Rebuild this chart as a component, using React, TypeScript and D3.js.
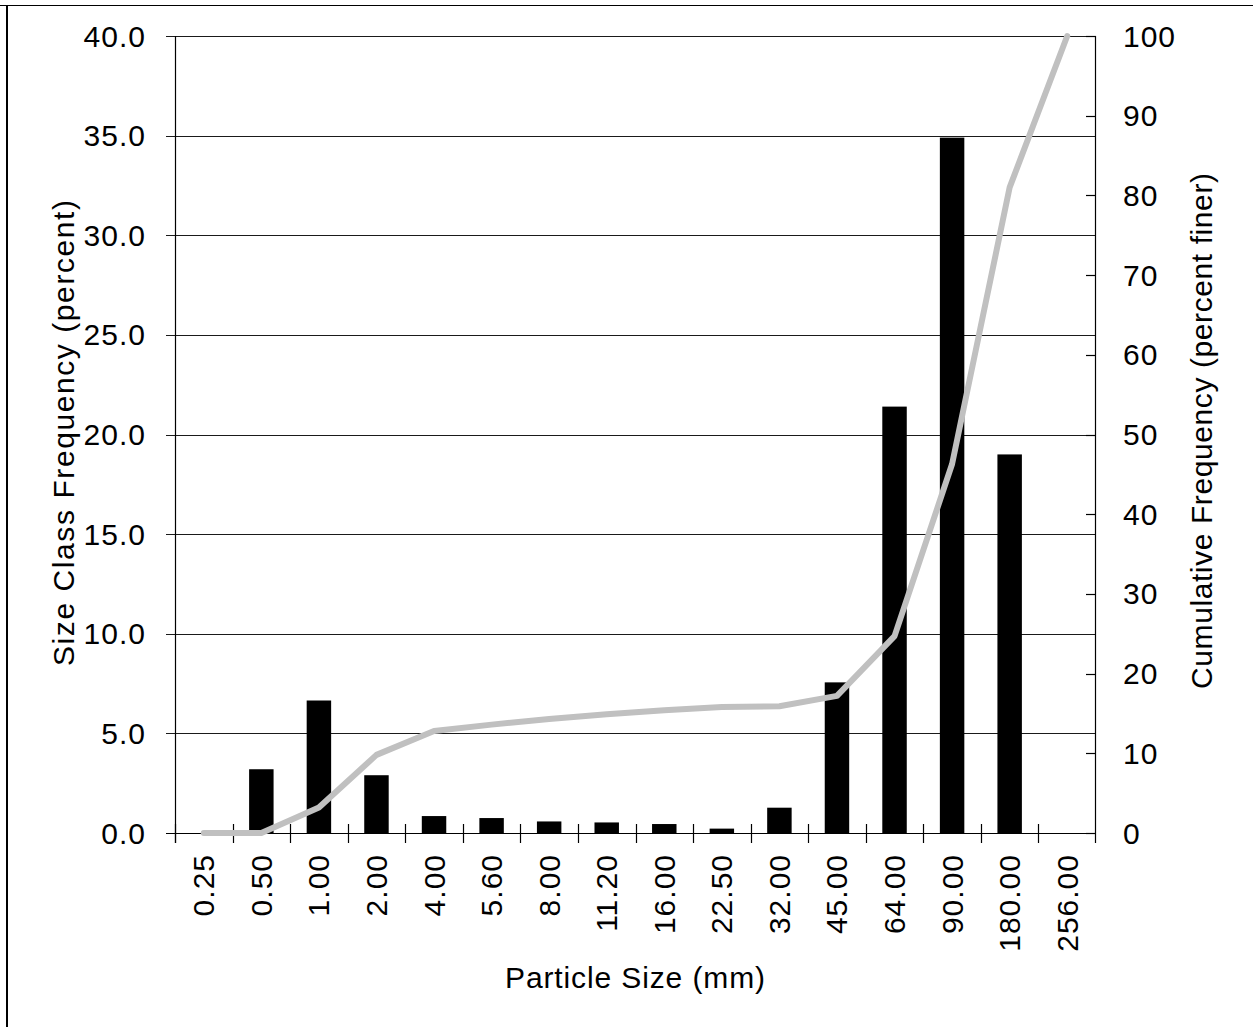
import React from "react";
import * as d3 from "d3";

const categories = ["0.25","0.50","1.00","2.00","4.00","5.60","8.00","11.20","16.00","22.50","32.00","45.00","64.00","90.00","180.00","256.00"];
const classFrequency = [0, 3.2, 6.65, 2.9, 0.85, 0.75, 0.58, 0.53, 0.45, 0.22, 1.27, 7.56, 21.4, 34.9, 19.0, 0];
const cumulativeFrequency = [0, 0, 3.2, 9.8, 12.8, 13.6, 14.3, 14.9, 15.4, 15.8, 15.9, 17.2, 24.7, 46.3, 81.0, 100];
const leftTicks = [0, 5, 10, 15, 20, 25, 30, 35, 40];
const rightTicks = [0, 10, 20, 30, 40, 50, 60, 70, 80, 90, 100];

const W = 1253, H = 1027;
const X0 = 175, X1 = 1096, Y0 = 833, Y1 = 36;
const FONT = "'Liberation Sans', Arial, sans-serif";

export default function App() {
  const x = d3.scaleBand<string>().domain(categories).range([X0, X1]).padding(0);
  const yL = d3.scaleLinear().domain([0, 40]).range([Y0, Y1]);
  const yR = d3.scaleLinear().domain([0, 100]).range([Y0, Y1]);
  const bw = x.bandwidth();
  const barW = bw * 0.425;
  const fmt = d3.format(".1f");
  const line = d3.line<number>()
    .x((_, i) => (x(categories[i]) as number) + bw / 2)
    .y((d) => yR(d));

  return (
    <svg width={W} height={H} style={{ position: "absolute", left: 0, top: 0, background: "#fff" }}
      fontFamily={FONT}>
      <rect x={0} y={0} width={W} height={H} fill="#fff" />
      {/* outer border */}
      <line x1={0} x2={W} y1={5.5} y2={5.5} stroke="#000" strokeWidth={1.2} />
      <line x1={7} x2={7} y1={5} y2={H} stroke="#000" strokeWidth={2} />

      {/* gridlines */}
      {leftTicks.map((t) => (
        <line key={"g" + t} x1={166} x2={X1} y1={Math.round(yL(t)) + 0.5} y2={Math.round(yL(t)) + 0.5}
          stroke="#1a1a1a" strokeWidth={1} />
      ))}

      {/* bars */}
      {classFrequency.map((v, i) => v > 0 ? (
        <rect key={"b" + i} x={(x(categories[i]) as number) + bw / 2 - barW / 2} y={yL(v)}
          width={barW} height={yL(0) - yL(v)} fill="#000" />
      ) : null)}

      {/* axes */}
      <line x1={X0 + 0.5} x2={X0 + 0.5} y1={Y1} y2={843} stroke="#000" strokeWidth={1.2} />
      <line x1={X1 - 0.5} x2={X1 - 0.5} y1={Y1} y2={843} stroke="#000" strokeWidth={1.2} />
      <line x1={166} x2={X1} y1={Y0 + 0.5} y2={Y0 + 0.5} stroke="#000" strokeWidth={1.2} />
      {categories.map((c, i) => (
        <line key={"xt" + i} x1={Math.round(x(c) as number) + 0.5} x2={Math.round(x(c) as number) + 0.5}
          y1={824} y2={843} stroke="#000" strokeWidth={1.2} />
      ))}
      {rightTicks.map((t) => (
        <line key={"rt" + t} x1={1086} x2={X1} y1={Math.round(yR(t)) + 0.5} y2={Math.round(yR(t)) + 0.5}
          stroke="#000" strokeWidth={1.2} />
      ))}

      {/* cumulative line */}
      <path d={line(cumulativeFrequency) || ""} fill="none" stroke="#c0c0c0" strokeWidth={6}
        strokeLinejoin="round" strokeLinecap="round" />

      {/* left tick labels */}
      {leftTicks.map((t) => (
        <text key={"lt" + t} x={146} y={yL(t) + 10.5} textAnchor="end" fontSize={30} letterSpacing={1}
          fill="#000">{fmt(t)}</text>
      ))}
      {/* right tick labels */}
      {rightTicks.map((t) => (
        <text key={"rl" + t} x={1123} y={yR(t) + 10.5} textAnchor="start" fontSize={30} letterSpacing={1}
          fill="#000">{t}</text>
      ))}
      {/* category labels */}
      {categories.map((c) => {
        const cx = (x(c) as number) + bw / 2 + 10.5;
        return (
          <text key={"cl" + c} transform={`translate(${cx},854) rotate(-90)`} textAnchor="end"
            fontSize={30} letterSpacing={1} fill="#000">{c}</text>
        );
      })}

      {/* titles */}
      <text x={635} y={988} textAnchor="middle" fontSize={30} textLength={260} lengthAdjust="spacing"
        fill="#000">Particle Size (mm)</text>
      <text transform="translate(74,433) rotate(-90)" textAnchor="middle" fontSize={30}
        textLength={466} lengthAdjust="spacing" fill="#000">Size Class Frequency (percent)</text>
      <text transform="translate(1212,431) rotate(-90)" textAnchor="middle" fontSize={30}
        textLength={516} lengthAdjust="spacing" fill="#000">Cumulative Frequency (percent finer)</text>
    </svg>
  );
}
